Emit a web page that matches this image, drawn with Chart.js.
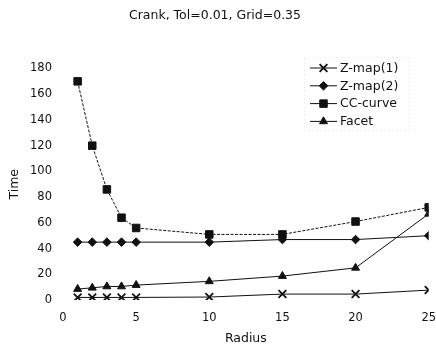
<!DOCTYPE html>
<html>
<head>
<meta charset="utf-8">
<script src="https://cdn.jsdelivr.net/npm/chart.js@4/dist/chart.umd.min.js"></script>
<style>
    html, body { margin: 0; padding: 0; background: #fff; }
    #wrap { width: 436px; height: 347px; }
</style>
</head>
<body>
<div id="wrap"><canvas id="chart" width="436" height="347"></canvas></div>
<script>
// Run time against radius for each method
const radius = [1, 2, 3, 4, 5, 10, 15, 20, 25];
const zmap1 = [2, 2, 2, 2, 2, 2.3, 4.6, 4.6, 7.7];
const zmap2 = [45, 45, 45, 45, 45, 45, 47, 47, 50];
const ccCurve = [170, 120, 86, 64, 56, 51, 51, 61, 72];
const facet = [8.5, 9.5, 10.5, 10.5, 11.6, 14.5, 18.6, 25, 67];

const xTicks = [0, 5, 10, 15, 20, 25];
const yTicks = [0, 20, 40, 60, 80, 100, 120, 140, 160, 180];

const FONT = '"DejaVu Sans", sans-serif';
const INK = '#111';

const toPoints = vals => vals.map((v, i) => ({x: radius[i], y: v}));

function series(label, vals, style, r, extra = {}) {
    return Object.assign({
        label: label,
        data: toPoints(vals),
        borderColor: INK,
        backgroundColor: INK,
        borderWidth: 1,
        pointStyle: style,
        pointRadius: r,
        pointHoverRadius: r,
        pointBorderWidth: 1,
        pointBackgroundColor: INK,
        pointBorderColor: INK,
        tension: 0
    }, extra);
}

// legend drawn inside the plot, line sample with marker in the middle
const legendBox = {
    id: 'legendBox',
    afterDraw(chart) {
        const ctx = chart.ctx;
        ctx.save();
        ctx.strokeStyle = '#dedede';
        ctx.lineWidth = 1;
        ctx.setLineDash([1, 3]);
        ctx.strokeRect(304.5, 57.5, 104, 73);
        ctx.setLineDash([]);
        ctx.font = '12.5px ' + FONT;
        ctx.textBaseline = 'middle';
        chart.data.datasets.forEach((ds, i) => {
            const y = 68 + i * 17.8;
            ctx.strokeStyle = INK;
            ctx.fillStyle = INK;
            ctx.lineWidth = 1;
            ctx.beginPath();
            ctx.moveTo(310, y);
            ctx.lineTo(337, y);
            ctx.stroke();
            ctx.lineWidth = ds.pointBorderWidth;
            Chart.helpers.drawPoint(ctx, {
                pointStyle: ds.pointStyle,
                radius: ds.pointRadius,
                borderWidth: ds.pointBorderWidth,
                rotation: 0
            }, 323.5, y);
            ctx.fillStyle = INK;
            ctx.fillText(ds.label, 340, y + 0.5);
        });
        ctx.restore();
    }
};

new Chart(document.getElementById('chart'), {
    type: 'line',
    data: {
        datasets: [
            series('Z-map(1)', zmap1, 'crossRot', 5.5, {pointBorderWidth: 1.8}),
            series('Z-map(2)', zmap2, 'rectRot', 4.3),
            series('CC-curve', ccCurve, 'rect', 5.3, {borderDash: [3, 1.5]}),
            series('Facet', facet, 'triangle', 4.6)
        ]
    },
    options: {
        responsive: false,
        animation: false,
        devicePixelRatio: 1,
        layout: { padding: { left: 0, right: 6, top: 0, bottom: 0 } },
        plugins: {
            legend: { display: false },
            tooltip: { enabled: false },
            title: {
                display: true,
                text: 'Crank, Tol=0.01, Grid=0.35',
                color: INK,
                font: { family: FONT, size: 12.5, weight: 'normal', lineHeight: 1.2 },
                padding: { top: 8, bottom: 45.5 }
            }
        },
        scales: {
            x: {
                type: 'linear',
                min: 0,
                max: 25,
                grid: { display: false, drawTicks: false, tickLength: 0 },
                border: { display: false },
                afterBuildTicks: s => { s.ticks = xTicks.map(v => ({value: v})); },
                afterFit: s => { s.height = 47; s.paddingLeft = 0; s.paddingRight = 0; },
                ticks: {
                    color: INK,
                    padding: 11,
                    maxRotation: 0,
                    font: { family: FONT, size: 11.5 }
                },
                title: {
                    display: true,
                    text: 'Radius',
                    color: INK,
                    padding: { top: 0, bottom: 1 },
                    font: { family: FONT, size: 12.5 }
                }
            },
            y: {
                min: 0,
                max: 180,
                grid: { display: false, drawTicks: false, tickLength: 0 },
                border: { display: false },
                afterBuildTicks: s => { s.ticks = yTicks.map(v => ({value: v})); },
                afterFit: s => { s.width = 63; },
                ticks: {
                    color: INK,
                    padding: 11,
                    font: { family: FONT, size: 11.5 }
                },
                title: {
                    display: true,
                    text: 'Time',
                    color: INK,
                    padding: { top: 7, bottom: 0 },
                    font: { family: FONT, size: 12.5 }
                }
            }
        }
    },
    plugins: [legendBox]
});
</script>
</body>
</html>
